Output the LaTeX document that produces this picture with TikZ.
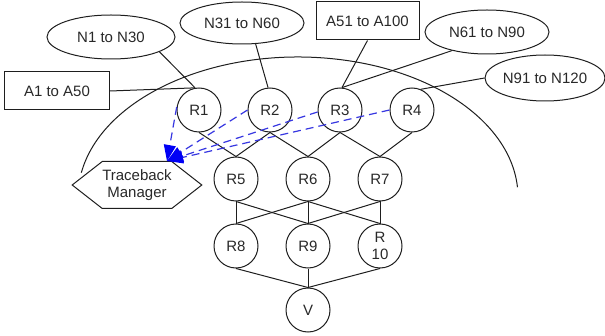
\documentclass[tikz,border=0pt]{standalone}
\usepackage{fontspec}
\setmainfont{Liberation Sans}
\usetikzlibrary{shapes.geometric,shapes.symbols,arrows.meta}
\definecolor{ln}{RGB}{30,30,30}
\definecolor{txt}{RGB}{40,40,40}
\definecolor{dblue}{RGB}{55,55,225}
\definecolor{hblue}{RGB}{0,0,245}
\begin{document}
\begin{tikzpicture}[x=1pt,y=1pt,
  every node/.style={font=\fontsize{15}{17.5}\selectfont, text=txt},
  router/.style={circle, draw=ln, line width=1pt, minimum size=44pt, inner sep=0pt, align=center},
  oval/.style={ellipse, draw=ln, line width=1pt, inner sep=0pt},
  box/.style={rectangle, draw=ln, line width=1pt, inner sep=0pt},
  link/.style={draw=ln, line width=1pt},
  trace/.style={draw=dblue, line width=1.2pt, dash pattern=on 8pt off 5pt,
    -{Triangle[length=16pt,width=12pt,color=hblue]}}
]
\useasboundingbox (0,0) rectangle (605,335);

% outer boundary arc
\draw[link] (298,138) ++(170:220 and 140) arc[start angle=170, end angle=4, x radius=220, y radius=140];

% source nodes
\node[oval, minimum width=128pt, minimum height=44pt] (N1) at (111,298) {N1 to N30};
\node[oval, minimum width=124pt, minimum height=42pt] (N31) at (242,312) {N31 to N60};
\node[box, minimum width=103pt, minimum height=38pt] (A51) at (367.5,314) {A51 to A100};
\node[oval, minimum width=124pt, minimum height=44pt] (N61) at (487,303) {N61 to N90};
\node[oval, minimum width=120pt, minimum height=46pt] (N91) at (545,257) {N91 to N120};
\node[box, minimum width=105pt, minimum height=38pt] (A1) at (57,244) {A1 to A50};

% traceback manager
\node[signal, signal to=west and east, signal pointer angle=76, draw=ln, line width=1pt,
  minimum width=120pt, minimum height=47pt, inner sep=0pt, align=center] (TM) at (137,150) {Traceback\\Manager};

% routers
\node[router] (R1) at (199,225) {R1};
\node[router] (R2) at (270,225) {R2};
\node[router] (R3) at (340,225) {R3};
\node[router] (R4) at (412,225) {R4};
\node[router] (R5) at (236,156) {R5};
\node[router] (R6) at (308,156) {R6};
\node[router] (R7) at (380,156) {R7};
\node[router] (R8) at (236,89) {R8};
\node[router] (R9) at (308,89) {R9};
\node[router] (R10) at (380,89) {R\\10};
\node[router] (V) at (308,25) {V};

% attachments
\draw[link] (N1.-17) -- (R1.100);
\draw[link] (A1.east) -- (R1.100);
\draw[link] (N31.-57) -- (R2.95);
\draw[link] (A51.south) -- (R3.85);
\draw[link] (N61.208) -- (R3.85);
\draw[link] (N91.180) -- (R4.67);

% router links
\draw[link] (R1.south) -- (R5.north);
\draw[link] (R2.south) -- (R5.north);
\draw[link] (R2.south) -- (R6.north);
\draw[link] (R3.south) -- (R6.north);
\draw[link] (R3.south) -- (R7.north);
\draw[link] (R4.south) -- (R7.north);
\draw[link] (R5.south) -- (R8.north);
\draw[link] (R5.south) -- (R9.north);
\draw[link] (R6.south) -- (R8.north);
\draw[link] (R6.south) -- (R9.north);
\draw[link] (R6.south) -- (R10.north);
\draw[link] (R7.south) -- (R9.north);
\draw[link] (R7.south) -- (R10.north);
\draw[link] (R8.south) -- (V.north);
\draw[link] (R9.south) -- (V.north);
\draw[link] (R10.south) -- (V.north);

% traceback paths
\coordinate (tip) at ([xshift=30pt]TM.north);
\draw[trace] (R1.172) -- (tip);
\draw[trace] (R2.180) -- (tip);
\draw[trace] (R3.185) -- (tip);
\draw[trace] (R4.180) -- (tip);
\end{tikzpicture}
\end{document}
